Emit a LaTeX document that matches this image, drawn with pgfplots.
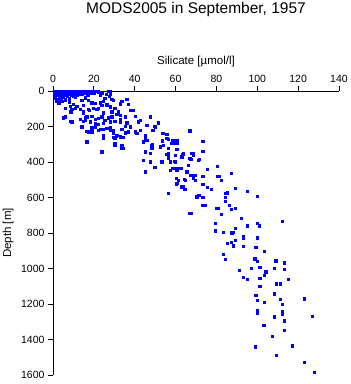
\documentclass[border=0pt]{standalone}
\usepackage{fontspec}
\setmainfont{Liberation Sans}
\usepackage{pgfplots}
\pgfplotsset{compat=1.18}
\usepackage{pgfplotstable}
\pgfplotstableread{
s d
0.5 2
1 5
1.5 0
2 8
2.5 3
3 12
1 15
2 18
3.5 6
4 1
4.5 10
5 4
5.5 15
6 0
1.5 22
2.5 25
3.5 20
4.5 28
1 30
6.5 8
7 2
7.5 12
8 5
8.5 0
9 9
9.5 3
10 15
10.5 6
11 0
12 10
12.5 3
13 18
14 5
15 0
15.5 12
16 4
17 20
18 8
19 2
20 14
22 5
23 25
24 10
26 18
27.5 30
3 35
5 32
7 30
9 25
11 35
2 45
4 40
6 48
8 42
1.5 55
3 60
1 38
5.5 22
0.8 12
4 16
6 25
8 18
10 30
7.5 0
10 0
12.4 0
14 19
15.7 38
17.3 0
18.9 9
20.6 0
23.8 9
24.6 56
27.1 0
27.9 19
28.7 47
32.8 75
33.6 56
36.1 47
36.9 75
5.1 150
8.3 169
13.2 160
14.8 169
15.7 150
18.9 141
20.6 160
22.2 188
23.0 216
24.6 216
18.9 206
16.5 225
27.9 206
29.5 235
33.6 216
35.2 235
3.1 66
4.2 56
5.9 47
8.3 84
10.0 75
9.1 103
11.6 84
13.2 103
14.8 113
17.3 103
18.9 66
21.4 103
23.0 66
24.6 122
26.3 75
27.1 150
28.7 113
30.3 169
31.2 131
32.8 160
35.2 197
36.1 178
2.6 69
3.4 54
5.9 98
8.0 60
8.6 116
10.8 98
11.6 23
13.2 13
14.0 51
14.8 79
14.8 126
16.5 145
17.3 51
17.8 107
19.7 98
20.6 69
22.2 98
23.0 69
23.8 79
25.4 41
26.3 79
27.9 4
27.9 88
28.7 116
29.5 51
30.3 98
32.0 116
32.8 69
37.7 107
39.3 107
40.1 141
42.6 163
47.5 145
51.5 178
49.9 201
45.8 191
41.8 173
37.7 201
36.1 182
35.2 145
32.8 135
32.8 173
28.7 145
27.9 173
25.4 163
24.6 182
23.8 145
22.2 154
20.6 182
18.1 173
15.7 163
14.0 201
9.1 173
5.9 145
17.3 229
18.9 229
20.6 201
22.2 220
24.6 248
24.6 267
26.3 210
27.9 220
29.5 220
30.3 267
31.2 248
32.8 257
33.6 304
33.6 323
35.2 238
36.9 229
40.9 238
40.1 229
42.6 220
45.0 248
44.2 285
45.0 267
45.8 276
48.3 304
48.3 323
45.0 342
47.5 351
49.1 220
52.4 313
54.0 304
54.0 238
55.6 267
56.4 323
56.4 351
58.1 295
59.7 295
60.5 276
59.7 360
63.8 351
67.0 220
67.9 351
68.7 360
71.1 389
16.5 285
23.8 342
30.3 304
29.5 261
30.8 252
34.4 261
30.3 298
34.1 321
44.2 389
47.5 398
49.9 430
53.2 398
56.4 379
57.3 445
58.9 435
59.7 398
60.5 435
62.2 435
63.0 370
65.4 454
66.2 417
67.0 379
67.9 473
68.7 492
69.5 473
61.3 501
60.5 520
63.8 539
64.6 501
69.5 501
56.4 576
63.0 539
70.3 595
71.1 586
67.0 689
45.0 454
51.5 176
49.4 197
48.8 220
53.5 238
55.6 244
67.0 223
48.6 300
53.5 280
56.4 272
58.6 280
60.5 285
60.5 291
73.3 282
48.3 323
52.4 310
56.4 323
60.5 328
73.3 338
63.5 357
68.4 351
55.3 355
56.4 370
67.4 383
71.5 385
47.5 398
53.5 398
57.3 398
59.4 394
49.6 430
58.4 435
60.5 445
62.5 435
65.4 458
66.2 417
75.5 439
80.4 424
87.3 464
67.4 475
69.2 473
73.3 481
80.6 481
81.4 479
60.4 492
64.3 497
60.2 524
63.3 539
64.4 554
73.3 526
75.5 542
77.3 554
82.2 501
89.1 548
56.4 576
85.3 572
84.3 576
84.3 599
84.3 621
86.3 644
87.3 666
89.1 661
80.0 661
80.9 661
95.1 565
100.0 593
73.3 599
70.3 599
71.3 588
73.3 644
74.4 644
82.2 695
67.4 689
92.0 717
79.3 745
89.2 773
95.1 758
100.0 745
101.0 758
112.3 734
83.4 796
87.4 798
88.3 796
79.3 788
93.2 817
93.2 830
100.0 826
87.1 852
89.2 839
85.3 858
88.3 871
93.2 873
99.2 880
103.3 903
83.4 920
84.3 948
98.7 944
100.0 959
109.1 955
113.2 967
91.2 1010
97.1 999
101.2 993
104.2 1019
108.3 999
113.2 1005
93.2 1049
95.1 1061
101.2 1055
103.3 1038
115.2 1061
101.2 1100
109.3 1085
111.3 1085
99.2 1150
100.0 1177
103.3 1190
108.3 1143
111.3 1173
112.3 1201
122.9 1169
100.0 1237
100.0 1248
108.3 1271
112.3 1242
112.3 1257
113.2 1295
126.9 1269
103.1 1320
113.2 1348
107.2 1381
99.0 1440
117.1 1434
109.3 1488
122.9 1528
127.9 1584
}\silicate
\begin{document}
\begin{tikzpicture}
\useasboundingbox (-53pt,-9pt) rectangle (298pt,375pt);
\begin{axis}[
  at={(0pt,0pt)}, anchor=south west,
  scale only axis,
  width=286pt, height=284pt,
  xmin=0, xmax=140, ymin=0, ymax=1600,
  y dir=reverse,
  axis x line=top, axis y line=left,
  axis line style={-, line width=0.8pt},
  tick align=outside,
  major tick length=5pt,
  tick style={line width=0.8pt, black},
  xtick={0,20,...,140},
  ytick={0,200,...,1600},
  minor tick num=0,
  /pgf/number format/assume math mode=true,
  /pgf/number format/1000 sep={},
  ticklabel style={font=\fontsize{10.5}{12}\selectfont},
  xticklabel pos=top,
  xlabel={Silicate [µmol/l]},
  ylabel={Depth [m]},
  every axis x label/.style={at={(axis description cs:0.5,1)}, anchor=base, yshift=26.5pt, font=\fontsize{11.5}{13}\selectfont},
  every axis y label/.style={at={(axis description cs:-0.157,0.5)}, rotate=90, anchor=center, font=\fontsize{11.5}{13}\selectfont},
  title={MODS2005 in September, 1957},
  every axis title/.style={at={(axis description cs:0.5,1)}, anchor=base, yshift=77.7pt, font=\fontsize{15.5}{17}\selectfont},
  clip=false,
]
\addplot[only marks, mark=square*, mark size=1.2pt, color={rgb,255:red,0;green,0;blue,255}] table[x=s, y=d] {\silicate};
\end{axis}
\end{tikzpicture}
\end{document}
